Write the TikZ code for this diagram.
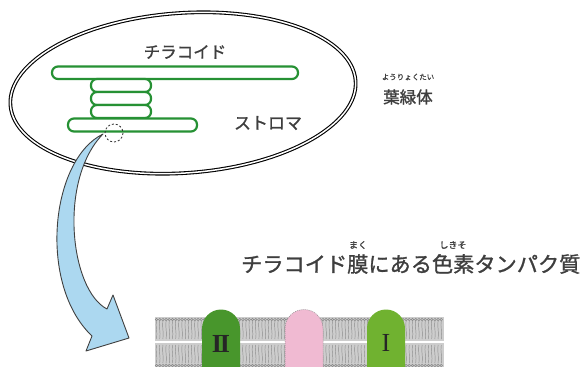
\documentclass[tikz,border=0pt]{standalone}
\usepackage{fontspec}
\newfontfamily\jp[FakeBold=1.2]{Noto Sans CJK JP}
\newfontfamily\romfont{Liberation Serif}
\definecolor{thyl}{RGB}{38,145,52}
\definecolor{txt}{RGB}{62,62,62}
\definecolor{arrowblue}{RGB}{172,216,240}
\definecolor{psII}{RGB}{72,150,44}
\definecolor{psI}{RGB}{112,178,48}
\definecolor{cyt}{RGB}{240,186,210}
\definecolor{lipid}{RGB}{205,205,205}
\definecolor{lipidline}{RGB}{140,140,140}
\tikzset{
  membrane/.style={draw=black, line width=1.1pt, double=white, double distance=1.5pt},
  disk/.style={draw=thyl, line width=2.2pt, fill=white, rounded corners=6pt},
  label/.style={font=\jp, text=txt, inner sep=0pt},
  ruby/.style={font=\jp, text=txt, inner sep=0pt},
  numeral/.style={font=\romfont, text=black!85, inner sep=0pt}
}
\begin{document}
\begin{tikzpicture}[x=1pt, y=-1pt]
\useasboundingbox (0,0) rectangle (584,367);
\fill[white] (0,0) rectangle (584,367);

% chloroplast envelope (double membrane)
\draw[membrane, rotate around={4:(183,93)}] (183,93) ellipse [x radius=173, y radius=80];

% thylakoids: stroma lamella, granum, lower lamella
\draw[disk] (52,66.5) rectangle (298,79);
\draw[disk] (91,79) rectangle (151,92);
\draw[disk] (91,92) rectangle (151,105);
\draw[disk] (91,105) rectangle (151,118);
\draw[disk] (68,118.5) rectangle (197,131.5);

\node[label, font=\jp\fontsize{16.5}{16.5}\selectfont] (thylakoid) at (185,52) {チラコイド};
\node[label, font=\jp\fontsize{17}{17}\selectfont] (stroma) at (268,123) {ストロマ};

% chloroplast label with reading
\node[label, font=\jp\fontsize{16.5}{16.5}\selectfont] (chloro) at (408,97) {葉緑体};
\node[ruby, font=\jp\fontsize{7.5}{7.5}\selectfont] (chlororuby) at (408,77) {ようりょくたい};

% magnified spot on the thylakoid membrane
\draw[black!80, line width=0.8pt, dash pattern=on 2pt off 2pt] (114,133) circle [radius=9];

% curved arrow from the spot down to the membrane
\draw[fill=arrowblue, draw=black!75, line width=0.9pt, line join=round]
  (103,134) .. controls (50,160) and (38,285) .. (92,336)
  -- (86,351) -- (129,338) -- (113,295) -- (107,309)
  .. controls (70,290) and (58,180) .. (103,134) -- cycle;

% membrane heading with readings
\node[label, anchor=west, font=\jp\fontsize{21.2}{21.2}\selectfont] (heading) at (241,264) {チラコイド膜にある色素タンパク質};
\node[ruby, font=\jp\fontsize{9}{9}\selectfont] (makuruby) at (358,245) {まく};
\node[ruby, font=\jp\fontsize{9}{9}\selectfont] (shikisoruby) at (453,245) {しきそ};

% lipid bilayer
\fill[lipid] (155,317) rectangle (444,367);
\foreach \i in {0,...,89} {
  \pgfmathsetmacro{\xx}{156.5+\i*3.2}
  \draw[lipidline, line width=0.5pt] (\xx,319.5) circle [radius=1.3];
  \draw[lipidline, line width=0.45pt] (\xx,321) .. controls (\xx-1.2,326) and (\xx+1.2,332) .. (\xx,339);
  \draw[lipidline, line width=0.45pt] (\xx,345) .. controls (\xx-1.2,351) and (\xx+1.2,357) .. (\xx,363);
  \draw[lipidline, line width=0.5pt] (\xx,365.5) circle [radius=1.3];
}
\draw[white, line width=1.8pt] (155,342) -- (444,342);

% pigment proteins
\fill[psII] (202,368) -- (202,328.5) arc [start angle=180, end angle=360, radius=19] -- (240,368) -- cycle;
\fill[cyt] (285,368) -- (285,328.5) arc [start angle=180, end angle=360, radius=19] -- (323,368) -- cycle;
\draw[black!45, line width=0.5pt, dash pattern=on 1pt off 1pt] (285,368) -- (285,328.5) arc [start angle=180, end angle=360, radius=19] -- (323,368);
\fill[psI] (367,368) -- (367,328.5) arc [start angle=180, end angle=360, radius=19] -- (405,368) -- cycle;

\node[numeral, font=\romfont\bfseries\fontsize{26}{26}\selectfont] (two) at (221,344) {I\kern-2.2pt I};
\node[numeral, font=\romfont\fontsize{26}{26}\selectfont] (one) at (386,343) {I};
\end{tikzpicture}
\end{document}
